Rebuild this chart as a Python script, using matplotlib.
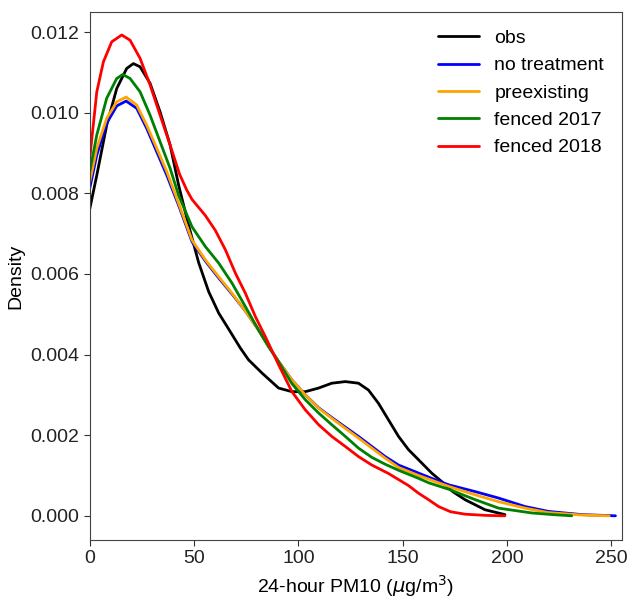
import matplotlib
matplotlib.use("Agg")
import matplotlib.pyplot as plt

# Density curves (x in ug/m3, y density)
obs_x = [0, 3.35, 8.1, 12.9, 17.7, 20.9, 24.1, 28.9, 33.7, 38.5, 42.6, 47.4, 52.2, 57,
         61.8, 66.6, 72.2, 76.1, 82.6, 90.5, 96.9, 103.3, 109.7, 116, 122.5, 128.8,
         133.6, 138.4, 143.2, 148, 152.8, 157.6, 163.9, 168.7, 174, 179.9, 189.5, 199]
obs_y = [0.00762, 0.00845, 0.00969, 0.0106, 0.0111, 0.01122, 0.01114, 0.01073, 0.01002,
         0.0092, 0.0082, 0.0072, 0.00628, 0.00556, 0.00503, 0.00463, 0.00416, 0.00387,
         0.00354, 0.00317, 0.00308, 0.00308, 0.00317, 0.00329, 0.00333, 0.00329,
         0.00312, 0.00279, 0.00238, 0.00197, 0.00164, 0.00139, 0.00106, 0.00085,
         0.0006, 0.0004, 0.00015, 0.00003]

notreat_x = [0, 3.35, 8.1, 12.9, 17.4, 22.5, 27.3, 32.1, 36.9, 42.6, 49, 55.4, 61.8,
             68.2, 74.6, 80.9, 85.7, 90.5, 96.9, 103.3, 109.7, 116, 122.5, 128.8, 135.2,
             141.6, 148, 157.6, 163.9, 172, 184.8, 196, 208.7, 219.8, 235.8, 252]
notreat_y = [0.00813, 0.00895, 0.00974, 0.01017, 0.01029, 0.01011, 0.00961, 0.00903,
             0.00845, 0.0077, 0.0068, 0.00632, 0.0059, 0.0055, 0.00508, 0.00461, 0.0042,
             0.00383, 0.00337, 0.003, 0.00268, 0.00244, 0.0022, 0.00197, 0.00172,
             0.00147, 0.00126, 0.00106, 0.00093, 0.00077, 0.0006, 0.00044, 0.00023,
             0.00011, 0.00003, 0.0]

preex_x = [0, 3.35, 8.1, 12.9, 17.4, 22.5, 27.3, 32.1, 36.9, 42.6, 49, 55.4, 61.8, 68.2,
           74.6, 80.9, 85.7, 90.5, 96.9, 103.3, 109.7, 116, 122.5, 128.8, 135.2, 141.6,
           148, 157.6, 172, 184.8, 196, 208.7, 219.8, 235.8, 249]
preex_y = [0.00829, 0.00912, 0.00986, 0.01027, 0.01039, 0.01019, 0.00969, 0.00912,
           0.00854, 0.00775, 0.00684, 0.00635, 0.00593, 0.00552, 0.00508, 0.00461,
           0.0042, 0.00383, 0.00337, 0.003, 0.00267, 0.00242, 0.00217, 0.00193, 0.00168,
           0.00143, 0.0012, 0.001, 0.00073, 0.00052, 0.00035, 0.00019, 0.00008, 0.00002,
           0.0]

f2017_x = [0, 3.35, 8.1, 12.9, 15.8, 19.3, 24.1, 28.9, 33.7, 38.5, 42.6, 49, 55.4, 61.8,
           68.2, 74.6, 80.9, 85.7, 90.5, 96.9, 103.3, 109.7, 116, 122.5, 128.8, 135.2,
           141.6, 148, 152.8, 157.6, 162.4, 172, 184.8, 196, 212, 222, 231]
f2017_y = [0.00854, 0.00945, 0.01036, 0.01085, 0.01095, 0.01085, 0.01052, 0.00994,
           0.00928, 0.00862, 0.00795, 0.00717, 0.00668, 0.00627, 0.00577, 0.00519,
           0.00461, 0.0042, 0.00382, 0.00328, 0.00288, 0.00255, 0.00226, 0.00197,
           0.00168, 0.00145, 0.00128, 0.00113, 0.00103, 0.00093, 0.00082, 0.00066,
           0.0004, 0.00019, 0.00007, 0.00003, 0.0]

f2018_x = [0, 3.35, 6.5, 10.5, 15.3, 19.3, 24.1, 28.9, 33.7, 38.5, 43, 46.5, 49, 52.2,
           55.4, 60.2, 65, 69.8, 74.6, 79.4, 84.1, 90.5, 96.9, 103.3, 109.7, 116, 122.5,
           128.8, 135.2, 143.2, 148, 152.8, 157.6, 162.4, 167.2, 173, 180, 190, 199]
f2018_y = [0.00888, 0.01052, 0.01126, 0.01176, 0.01193, 0.0118, 0.01135, 0.01069,
           0.00994, 0.0092, 0.00848, 0.00808, 0.00785, 0.00765, 0.00745, 0.00708, 0.0066,
           0.00602, 0.00552, 0.00494, 0.00445, 0.00375, 0.00308, 0.00263, 0.00226,
           0.00197, 0.00172, 0.00147, 0.00126, 0.00105, 0.0009, 0.00075, 0.00056,
           0.0004, 0.00023, 0.0001, 0.00004, 0.00001, 0.0]

labels = ["obs", "no treatment", "preexisting", "fenced 2017", "fenced 2018"]
colors = ["black", "blue", "orange", "green", "red"]
series = [(obs_x, obs_y), (notreat_x, notreat_y), (preex_x, preex_y),
          (f2017_x, f2017_y), (f2018_x, f2018_y)]

plt.rcParams["font.family"] = ["Liberation Sans", "DejaVu Sans"]

fig = plt.figure(figsize=(6.28, 6.0), dpi=100)
ax = fig.add_axes([0.143, 0.1, 0.847, 0.88])

for (xs, ys), lab, col in zip(series, labels, colors):
    ax.plot(xs, ys, color=col, lw=2, label=lab,
            solid_joinstyle="round", solid_capstyle="round")

ax.set_xlim(0, 255)
ax.set_ylim(-0.0006, 0.0125)
ax.set_xticks([0, 50, 100, 150, 200, 250])
ax.set_yticks([0.0, 0.002, 0.004, 0.006, 0.008, 0.010, 0.012])
ax.set_yticklabels(["0.000", "0.002", "0.004", "0.006", "0.008", "0.010", "0.012"])
ax.tick_params(labelsize=14, colors="#333333", labelcolor="#222222", length=4)
for sp in ax.spines.values():
    sp.set_color("#444444")

ax.set_xlabel(r"24-hour PM10 ($\mu$g/m$^3$)", fontsize=14)
ax.set_ylabel("Density", fontsize=14)

ax.legend(loc="upper right", frameon=False, fontsize=14, handlelength=2.1)

fig.savefig("out.png", dpi=100)
